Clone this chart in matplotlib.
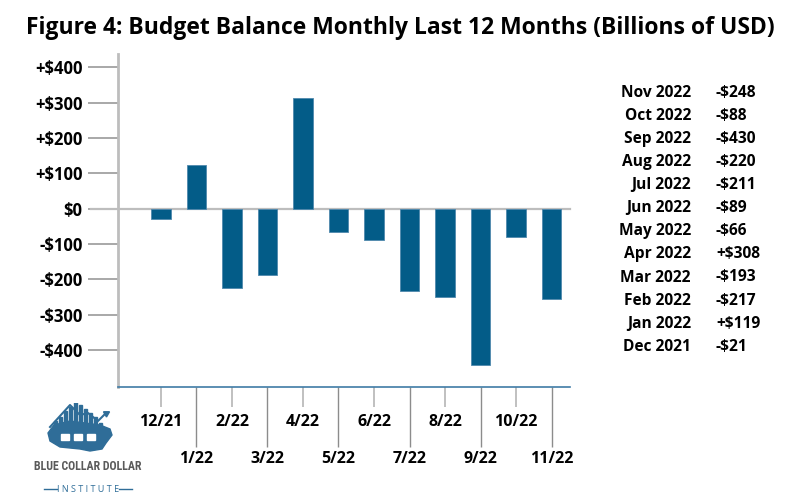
import numpy as np
import matplotlib
matplotlib.use('Agg')
import matplotlib.pyplot as plt
from matplotlib.patches import Rectangle, Polygon
from matplotlib.lines import Line2D

plt.rcParams['font.family'] = ['Open Sans', 'DejaVu Sans']
plt.rcParams['axes.unicode_minus'] = False

# bar heights as drawn in the picture (billions of USD)
months = ['12/21', '1/22', '2/22', '3/22', '4/22', '5/22',
          '6/22', '7/22', '8/22', '9/22', '10/22', '11/22']
balance = [-28, 124, -224, -188, 312, -65, -90, -234, -250, -444, -79, -257]

# the side table as printed
table_months = ['Nov 2022', 'Oct 2022', 'Sep 2022', 'Aug 2022', 'Jul 2022', 'Jun 2022',
                'May 2022', 'Apr 2022', 'Mar 2022', 'Feb 2022', 'Jan 2022', 'Dec 2021']
table_values = ['-$248', '-$88', '-$430', '-$220', '-$211', '-$89',
                '-$66', '+$308', '-$193', '-$217', '+$119', '-$21']

yticks = [400, 300, 200, 100, 0, -100, -200, -300, -400]

bar_color = '#035c88'

fig = plt.figure(figsize=(8, 5), dpi=100)
ax = fig.add_axes([0.1475, 0.226, 0.565, 0.666])

x = np.arange(len(months))
ax.bar(x, balance, width=0.54, color=bar_color, edgecolor='#4f88ad', linewidth=0.6, zorder=3)
ax.axhline(0, color='#bdbdbd', linewidth=1.6, zorder=2, xmin=-0.06, clip_on=False)

ax.set_xlim(-1.21, 11.52)
ax.set_ylim(-505, 438)

ax.set_yticks(yticks)
ax.set_yticklabels([('+$%d' % v) if v > 0 else ('-$%d' % -v if v < 0 else '$0') for v in yticks],
                   fontsize=12, fontweight='bold')
ax.tick_params(axis='y', length=21.5, width=1.2, color='#9a9a9a', pad=4)

even = x[::2]
odd = x[1::2]
ax.set_xticks(even)
ax.set_xticklabels([months[i] for i in even], fontsize=11.5, fontweight='bold')
ax.set_xticks(odd, minor=True)
ax.set_xticklabels([months[i] for i in odd], minor=True, fontsize=11.5, fontweight='bold')
ax.tick_params(axis='x', which='major', length=14.4, width=1.2, color='#b5b5b5', pad=5)
ax.tick_params(axis='x', which='minor', length=43.2, width=1.0, color='#8c8c8c', pad=3)

for s in ['top', 'right']:
    ax.spines[s].set_visible(False)
ax.spines['left'].set_color('#bdbdbd')
ax.spines['left'].set_linewidth(2)
ax.spines['bottom'].set_color('#3f7ca6')
ax.spines['bottom'].set_linewidth(1.2)

fig.text(0.5, 0.945, 'Figure 4: Budget Balance Monthly Last 12 Months (Billions of USD)',
         ha='center', va='center', fontsize=16.5, fontweight='bold')

# side table
for i, (m, v) in enumerate(zip(table_months, table_values)):
    yy = 1 - (92.7 + 23.1 * i) / 500
    fig.text(691 / 800, yy, m, ha='right', va='center', fontsize=11.2, fontweight='bold')
    fig.text(716 / 800, yy, v, ha='left', va='center', fontsize=11.2, fontweight='bold')

# logo, rough
lg = fig.add_axes([40 / 800, 1 - 495 / 500, 100 / 800, 92 / 500])
lg.set_xlim(0, 100)
lg.set_ylim(0, 92)
lg.axis('off')
logo_blue = '#2f6d98'
lg.add_patch(Polygon([[8, 62], [14, 70], [30, 74], [60, 70], [70, 66], [72, 60],
                      [66, 52], [62, 46], [50, 44], [40, 46], [20, 48], [10, 54]],
                     closed=True, color=logo_blue, zorder=1))
for bx, bh in zip([14, 19, 24, 29, 34, 39, 44, 49, 54, 59],
                  [16, 20, 26, 30, 36, 32, 28, 24, 20, 14]):
    lg.add_patch(Rectangle((bx, 58), 3, bh, color=logo_blue, zorder=2))
lg.add_line(Line2D([10, 30, 40, 48, 58, 66], [68, 90, 80, 82, 74, 82], color=logo_blue, lw=1.5))
lg.plot([66], [82], marker=(3, 0, -60), color=logo_blue, markersize=5)
for cx in [25, 38, 51]:
    lg.add_patch(Rectangle((cx - 4, 55), 8, 6, color='white', zorder=3))
lg.text(48, 29, 'BLUE COLLAR DOLLAR', ha='center', va='center', fontsize=8.6,
        color='#5a5a5a', family=['Roboto Condensed', 'Liberation Sans Narrow', 'Roboto'],
        fontweight='bold', stretch='condensed')
lg.text(48, 6, 'I N S T I T U T E', ha='center', va='center', fontsize=6.5, color=logo_blue)
lg.add_line(Line2D([4, 17], [6, 6], color=logo_blue, lw=1))
lg.add_line(Line2D([79, 92], [6, 6], color=logo_blue, lw=1))

fig.savefig('out.png', dpi=100)
